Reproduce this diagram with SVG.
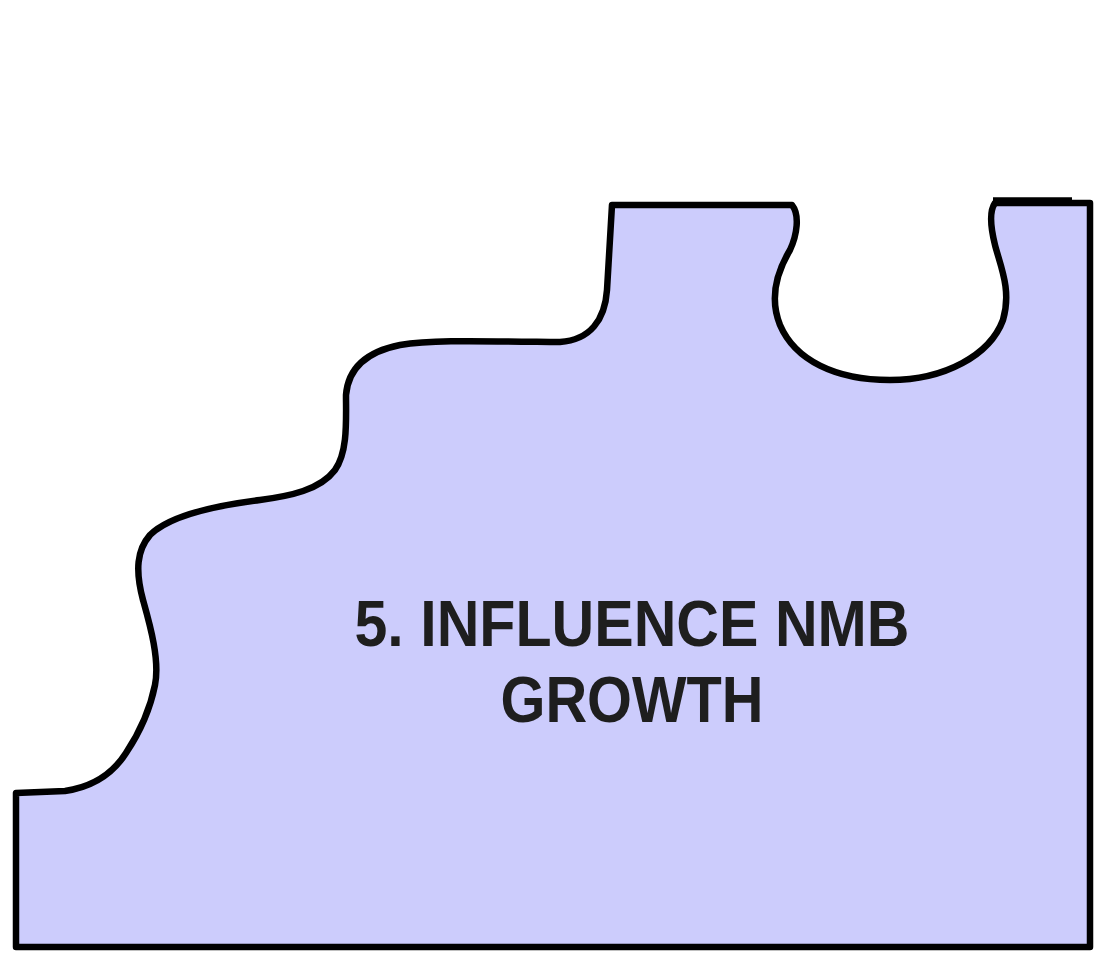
<svg xmlns="http://www.w3.org/2000/svg" width="1102" height="953" viewBox="0 0 1102 953">
<style>
.piece{fill:#CCCCFC;stroke:#000;stroke-width:6.5;stroke-linejoin:round}
.edge{fill:none;stroke:#000;stroke-width:5.5}
.lbl{font-family:"Liberation Sans",Arial,sans-serif;font-size:65px;font-weight:bold;fill:#1E1E1E;text-anchor:middle}
</style>
<rect width="1102" height="953" fill="#FFFFFF"/>
<g id="node-5">
<path class="piece" d="M16,947 L16,793 L65,791 C92,787 112,775 126,753 C140,732 150,710 155,685 C160,660 150,625 143,600 C135,570 137,550 150,535 C170,515 220,505 260,500 C290,496 320,490 335,470 C348,452 346,420 346,395 C348,370 365,352 400,345 C430,340 470,341 560,342 C590,340 605,320 607,290 L612,205 L792,205 C800,215 797,235 790,250 C775,275 770,300 780,325 C795,360 835,380 890,380 C945,380 990,355 1003,320 C1012,290 1000,265 995,245 C990,225 990,210 995,203 L1090,203 L1090,947 Z"/>
<path class="edge" d="M993,200 L1072,200"/>
<text class="lbl" x="632" y="646" textLength="555" lengthAdjust="spacingAndGlyphs">5. INFLUENCE NMB</text>
<text class="lbl" x="632" y="722" textLength="263" lengthAdjust="spacingAndGlyphs">GROWTH</text>
</g>
<g id="connectors"/>
</svg>
